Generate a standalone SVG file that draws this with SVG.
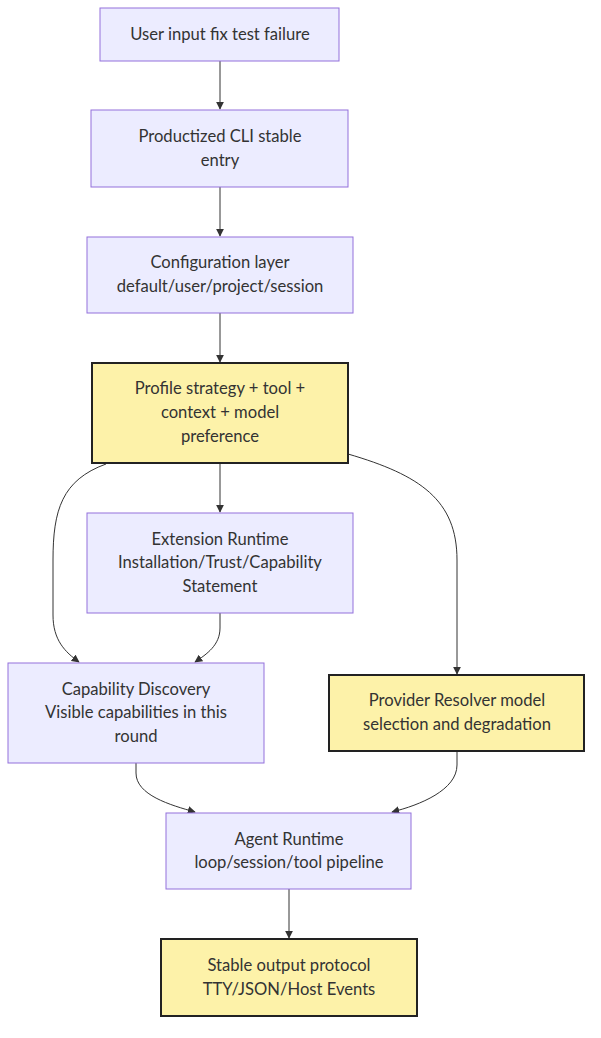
<svg xmlns="http://www.w3.org/2000/svg" width="601" height="1038" viewBox="0 0 601 1038">
<style>
.n rect{fill:#ECECFF;stroke:#9370DB;stroke-width:1}
.h rect{fill:#FDF2A9;stroke:#222;stroke-width:2}
text{font-family:"Lato","Noto Sans",sans-serif;font-size:16.6px;fill:#333;text-anchor:middle}
.e path{fill:none;stroke:#333;stroke-width:1;marker-end:url(#a)}
</style>
<defs>
<marker id="a" viewBox="0 0 10 10" refX="9" refY="5" markerWidth="8" markerHeight="8" orient="auto" markerUnits="userSpaceOnUse">
<path d="M0,0 L10,5 L0,10 z" fill="#333"/>
</marker>
</defs>
<rect width="601" height="1038" fill="#fff"/>
<g class="e" id="connectors">
<path d="M220,61 L220,109"/>
<path d="M220,187 L220,236"/>
<path d="M220,313 L220,362"/>
<path d="M220,463 L220,512"/>
<path d="M106,464 C62,480 53,510 53,560 L53,615 C53,640 65,652 79,662"/>
<path d="M348,454 C420,475 457,500 457,560 L457,674"/>
<path d="M220,613 L220,628 C220,645 207,654 195,662"/>
<path d="M136,763 L136,773 C136,795 170,805 195,812"/>
<path d="M457,751 L457,765 C457,790 420,805 392,812"/>
<path d="M289,889 L289,938"/>
</g>
<g id="n1" class="n"><rect x="100" y="8" width="239" height="53"/><text x="220" y="40">User input fix test failure</text></g>
<g id="n2" class="n"><rect x="91" y="110" width="257" height="77"/><text x="220" y="142">Productized CLI stable</text><text x="220" y="166">entry</text></g>
<g id="n3" class="n"><rect x="87" y="237" width="266" height="76"/><text x="220" y="268">Configuration layer</text><text x="220" y="292">default/user/project/session</text></g>
<g id="n4" class="h"><rect x="92" y="363" width="256" height="100"/><text x="220" y="394">Profile strategy + tool +</text><text x="220" y="418">context + model</text><text x="220" y="442">preference</text></g>
<g id="n5" class="n"><rect x="87" y="513" width="266" height="100"/><text x="220" y="545">Extension Runtime</text><text x="220" y="568">Installation/Trust/Capability</text><text x="220" y="592">Statement</text></g>
<g id="n6" class="n"><rect x="8" y="663" width="256" height="100"/><text x="136" y="695">Capability Discovery</text><text x="136" y="718">Visible capabilities in this</text><text x="136" y="742">round</text></g>
<g id="n7" class="h"><rect x="329" y="675" width="255" height="76"/><text x="457" y="706">Provider Resolver model</text><text x="457" y="730">selection and degradation</text></g>
<g id="n8" class="n"><rect x="166" y="813" width="245" height="76"/><text x="289" y="845">Agent Runtime</text><text x="289" y="868">loop/session/tool pipeline</text></g>
<g id="n9" class="h"><rect x="161" y="939" width="256" height="77"/><text x="289" y="971">Stable output protocol</text><text x="289" y="995">TTY/JSON/Host Events</text></g>
</svg>
